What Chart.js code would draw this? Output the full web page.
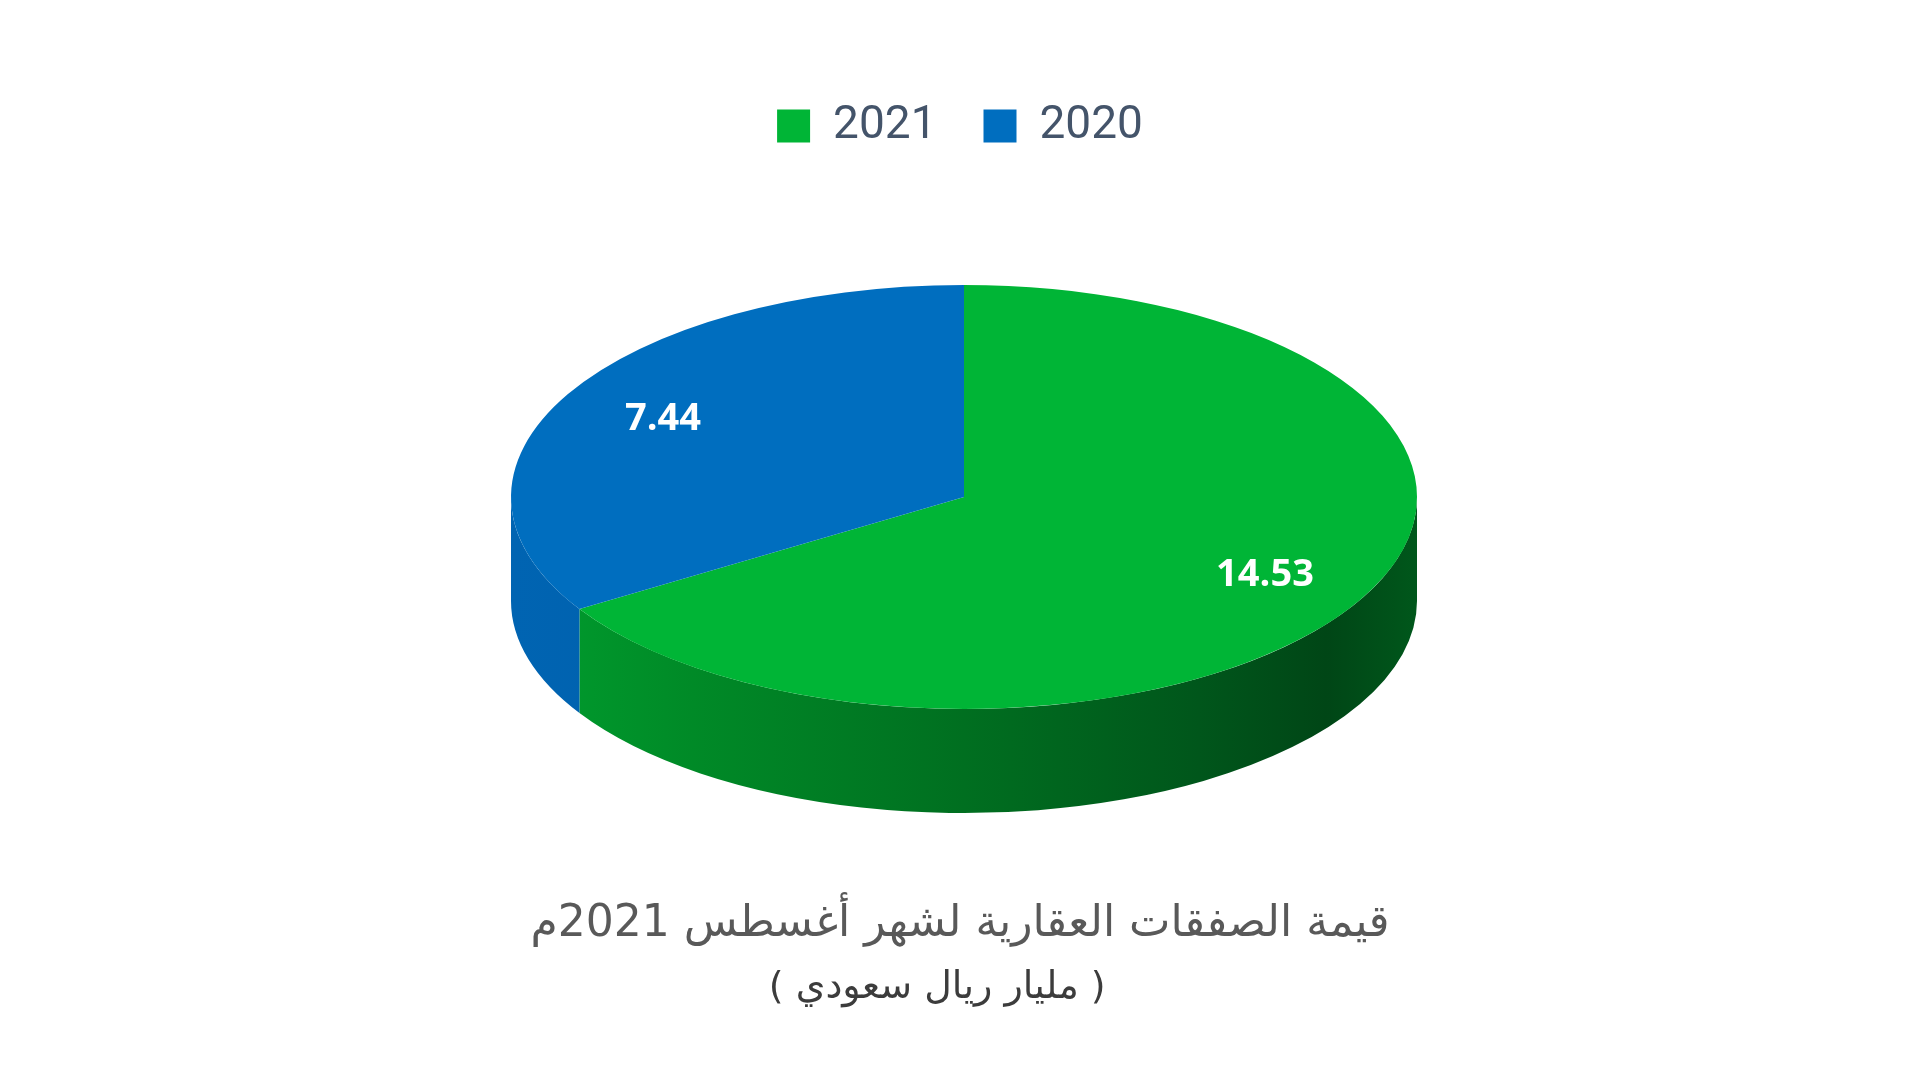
<!DOCTYPE html>
<html lang="ar">
<head>
<meta charset="utf-8">
<title>قيمة الصفقات العقارية</title>
<script src="https://cdn.jsdelivr.net/npm/chart.js@4.4.1/dist/chart.umd.min.js"></script>
<style>
html,body{margin:0;padding:0;background:#fff;}
#contenedor{width:1920px;height:1081px;position:relative;}
</style>
</head>
<body>
<div id="contenedor"><canvas id="chartPastel"></canvas></div>
<script>
// datos
var etiquetas=['2021','2020'];
var valores=[14.53,7.44];
var titulo='قيمة الصفقات العقارية لشهر أغسطس 2021م';
var subtitulo='( مليار ريال سعودي )';

// estilos
var colores=['#00b536','#006ebf'];
var coloresLado=[
	[[0,'#009e2e'],[0.2,'#008a27'],[0.5,'#006f20'],[0.76,'#00561b'],[0.9,'#004616'],[1,'#00571b']],
	[[0,'#0064b2'],[1,'#00549c']]
];
// elipse del pastel en pantalla
var CX=964, CY=497, RX=453, RY=212, PROF=104, RADIO_ETIQ=0.76;

var pastel3d={
	id:'pastel3d',
	beforeDatasetsDraw:function(chart){
		var ctx=chart.ctx, arcos=chart.getDatasetMeta(0).data;
		var p=arcos[0].getProps(['x','y','outerRadius'],true);
		var R=p.outerRadius, sx=RX/R, sy=RY/R, d=PROF/sy;
		ctx.save();
		ctx.translate(CX,CY);
		ctx.scale(sx,sy);
		ctx.translate(-p.x,-p.y);
		// paredes laterales (solo la mitad frontal)
		arcos.forEach(function(arco,i){
			var a=arco.getProps(['startAngle','endAngle'],true);
			var a0=Math.max(a.startAngle,0), a1=Math.min(a.endAngle,Math.PI);
			if(a1<=a0) return;
			var g=ctx.createLinearGradient(p.x-R,0,p.x+R,0);
			coloresLado[i].forEach(function(s){ g.addColorStop(s[0],s[1]); });
			ctx.beginPath();
			ctx.arc(p.x,p.y,R,a0,a1);
			ctx.arc(p.x,p.y+d,R,a1,a0,true);
			ctx.closePath();
			ctx.fillStyle=g;
			ctx.fill();
		});
	},
	afterDatasetsDraw:function(chart){
		var ctx=chart.ctx, arcos=chart.getDatasetMeta(0).data;
		ctx.restore();
		var p=arcos[0].getProps(['x','y','outerRadius'],true);
		var R=p.outerRadius, sx=RX/R, sy=RY/R;
		ctx.save();
		ctx.fillStyle='#ffffff';
		ctx.font='bold 38px "Open Sans"';
		ctx.textAlign='center';
		ctx.textBaseline='middle';
		arcos.forEach(function(arco,i){
			var a=arco.getProps(['startAngle','endAngle'],true);
			var m=(a.startAngle+a.endAngle)/2;
			var x=CX+sx*Math.cos(m)*R*RADIO_ETIQ;
			var y=CY+sy*Math.sin(m)*R*RADIO_ETIQ;
			ctx.fillText(valores[i].toFixed(2),x,y);
		});
		ctx.restore();
	}
};

var chartPastel=new Chart(document.getElementById('chartPastel'),{
	type:'pie',
	data:{
		labels:etiquetas,
		datasets:[{
			data:valores,
			backgroundColor:colores,
			borderWidth:0,
			clip:false
		}]
	},
	options:{
		responsive:true,
		maintainAspectRatio:false,
		animation:false,
		events:[],
		layout:{padding:{top:56,left:0,right:0,bottom:0}},
		plugins:{
			legend:{
				position:'top',
				labels:{
					boxWidth:33,
					boxHeight:33,
					padding:47,
					color:'#44546a',
					font:{family:'Roboto',size:46}
				}
			},
			title:{
				display:true,
				position:'bottom',
				weight:1000,
				text:titulo,
				color:'#595959',
				font:{family:'DejaVu Sans',size:44,weight:'normal'},
				padding:{top:10,bottom:8}
			},
			subtitle:{
				display:true,
				position:'bottom',
				// espacio final para correr el texto a la izquierda como en el original
				text:subtitulo+'\u2003\u2009',
				color:'#3c3c3c',
				font:{family:'DejaVu Sans',size:38,weight:'normal'},
				padding:{top:6,bottom:70}
			},
			tooltip:{enabled:false}
		}
	},
	plugins:[pastel3d]
});
</script>
</body>
</html>
